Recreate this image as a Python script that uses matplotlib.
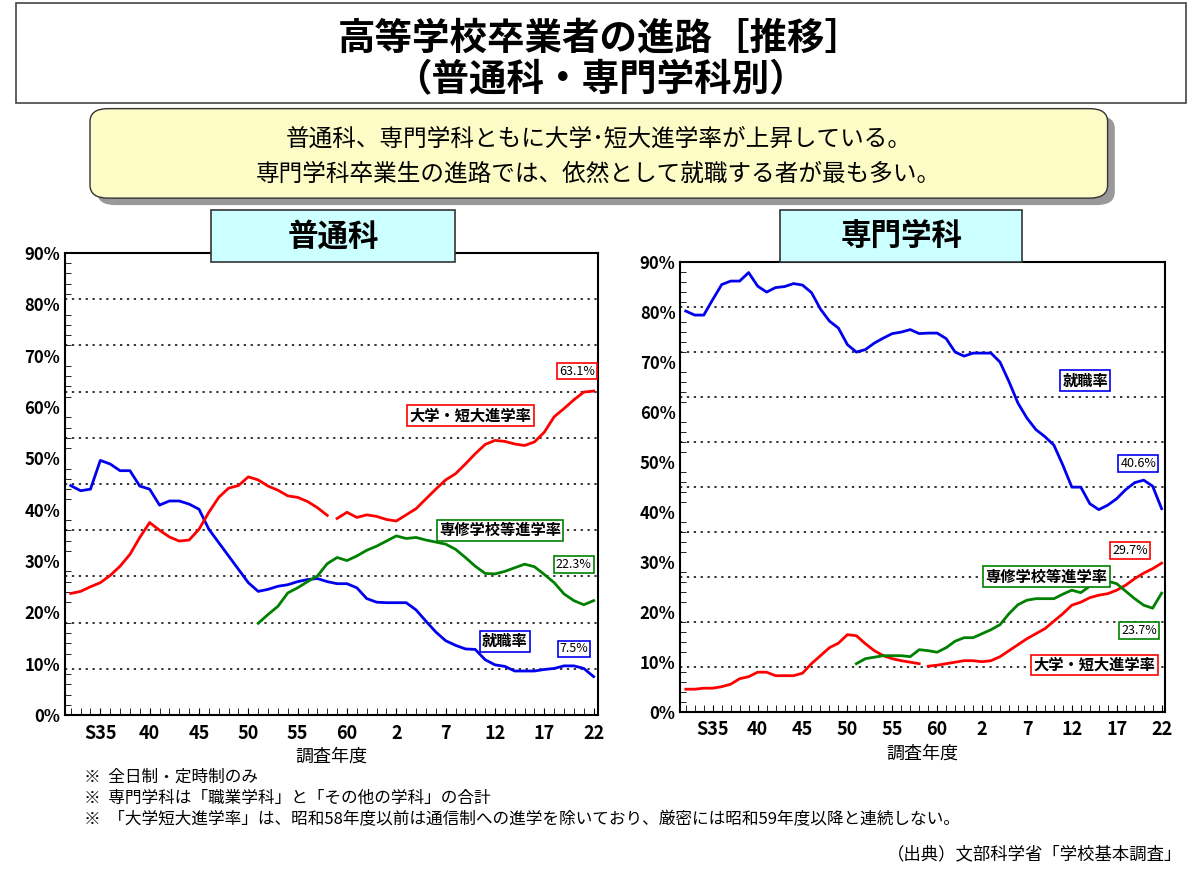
import matplotlib.pyplot as plt
import numpy as np
from matplotlib.patches import FancyBboxPatch, Rectangle

plt.rcParams['font.family'] = ['Noto Sans CJK JP', 'DejaVu Sans']

years = list(range(1957, 2011))
green_years = list(range(1976, 2011))
tick_years = [1960, 1965, 1970, 1975, 1980, 1985, 1990, 1995, 2000, 2005, 2010]
tick_labels = ['S35', '40', '45', '50', '55', '60', '2', '7', '12', '17', '22']

# 普通科
gen_job = [44.7, 43.7, 44.0, 49.6, 48.9, 47.6, 47.6, 44.6, 44.0, 40.9, 41.7, 41.7, 41.1, 40.1,
           36.2, 33.6, 31.0, 28.4, 25.8, 24.1, 24.5, 25.1, 25.4, 26.0, 26.4, 26.6, 26.0, 25.6,
           25.6, 24.8, 22.7, 22.0, 21.9, 21.9, 21.9, 20.5, 18.3, 16.2, 14.5, 13.6, 12.9, 12.8,
           10.8, 9.8, 9.5, 8.6, 8.6, 8.6, 8.9, 9.1, 9.6, 9.6, 9.1, 7.5]
gen_univ = [23.7, 24.1, 25.0, 25.8, 27.2, 29.0, 31.3, 34.6, 37.5, 36.0, 34.7, 33.9, 34.1, 36.2,
            39.5, 42.4, 44.2, 44.7, 46.4, 45.8, 44.6, 43.8, 42.7, 42.4, 41.6, 40.4, 38.9,
            38.3, 39.5, 38.5, 39.0, 38.7, 38.1, 37.8, 39.0, 40.2, 42.1, 44.0, 45.8, 47.0, 48.9,
            50.9, 52.7, 53.5, 53.3, 52.8, 52.5, 53.2, 55.1, 58.1, 59.7, 61.4, 62.9, 63.1]
gen_senshu = [17.9, 19.6, 21.2, 23.8, 24.8, 26.0, 27.1, 29.5, 30.7, 30.1, 31.0, 32.1, 32.9,
              33.9, 34.9, 34.4, 34.6, 34.1, 33.7, 33.3, 32.3, 30.7, 29.0, 27.6, 27.5, 28.0,
              28.7, 29.4, 28.9, 27.4, 25.8, 23.6, 22.3, 21.5, 22.3]

# 専門学科
sp_job = [80.1, 79.3, 79.3, 82.4, 85.4, 86.1, 86.1, 87.8, 85.1, 83.9, 84.8, 85.0, 85.6, 85.3,
          83.8, 80.5, 78.1, 76.7, 73.4, 71.9, 72.4, 73.7, 74.7, 75.6, 75.9, 76.4, 75.6, 75.7,
          75.7, 74.6, 71.9, 71.1, 71.7, 71.7, 71.7, 69.9, 66.0, 61.7, 58.7, 56.4, 55.0, 53.3,
          49.3, 44.9, 44.9, 41.6, 40.4, 41.3, 42.6, 44.4, 45.8, 46.3, 45.1, 40.6]
sp_univ = [4.5, 4.5, 4.7, 4.7, 5.0, 5.5, 6.6, 7.0, 7.9, 7.9, 7.2, 7.2, 7.2, 7.7, 9.6, 11.2,
           12.8, 13.7, 15.4, 15.2, 13.6, 12.2, 11.2, 10.6, 10.2, 9.9, 9.6,
           9.1, 9.3, 9.6, 9.9, 10.2, 10.2, 10.0, 10.2, 11.0, 12.2, 13.4, 14.6, 15.6, 16.6,
           18.1, 19.6, 21.3, 21.9, 22.8, 23.3, 23.6, 24.3, 25.3, 26.6, 27.7, 28.6, 29.7]
sp_senshu = [9.6, 10.6, 10.9, 11.2, 11.2, 11.2, 11.0, 12.4, 12.2, 11.9, 12.8, 14.1, 14.8,
             14.8, 15.6, 16.4, 17.4, 19.6, 21.4, 22.3, 22.6, 22.6, 22.6, 23.5, 24.3, 23.8,
             25.1, 26.4, 26.1, 25.6, 24.1, 22.6, 21.3, 20.7, 23.7]

BLUE, RED, GREEN = '#0000ee', '#ff0000', '#008000'

fig = plt.figure(figsize=(12, 8.69), dpi=100)

# title box
fig.patches.append(Rectangle((0.013, 0.882), 0.975, 0.115, transform=fig.transFigure,
                             fill=False, edgecolor='#444444', lw=1.2))
fig.text(0.5, 0.956, '高等学校卒業者の進路［推移］', ha='center', va='center',
         fontsize=27, fontweight='bold')
fig.text(0.5, 0.908, '（普通科・専門学科別）', ha='center', va='center',
         fontsize=27, fontweight='bold')

# summary box with shadow
fig.patches.append(FancyBboxPatch((0.085, 0.768), 0.84, 0.095, transform=fig.transFigure,
                                  boxstyle='round,pad=0.004,rounding_size=0.015',
                                  facecolor='#999999', edgecolor='none'))
fig.patches.append(FancyBboxPatch((0.079, 0.776), 0.84, 0.095, transform=fig.transFigure,
                                  boxstyle='round,pad=0.004,rounding_size=0.015',
                                  facecolor='#fdfbc6', edgecolor='#333333', lw=1))
fig.text(0.499, 0.84, '普通科、専門学科ともに大学･短大進学率が上昇している。',
         ha='center', va='center', fontsize=17)
fig.text(0.499, 0.8, '専門学科卒業生の進路では、依然として就職する者が最も多い。',
         ha='center', va='center', fontsize=17)


def draw(ax, job, univ, senshu):
    y = np.array(years)
    u = np.array(univ)
    ax.plot(y, job, color=BLUE, lw=2)
    ax.plot(y[y <= 1983], u[y <= 1983], color=RED, lw=2)
    ax.plot(y[y >= 1984], u[y >= 1984], color=RED, lw=2)
    ax.plot(green_years, senshu, color=GREEN, lw=2)
    ax.set_xlim(1956.4, 2010.4)
    ax.set_ylim(0, 90)
    for g in range(9, 91, 9):
        ax.axhline(g, color='black', ls=(0, (1.5, 3)), lw=1.1, zorder=0)
    ax.set_yticks(range(0, 91, 10))
    ax.set_yticklabels([f'{v}%' for v in range(0, 91, 10)], fontsize=12, fontweight='bold')
    ax.set_xticks(tick_years)
    ax.set_xticklabels(tick_labels, fontsize=13, fontweight='bold')
    ax.set_xticks(years, minor=True)
    ax.tick_params(axis='x', which='both', direction='in', length=5, pad=6)
    ax.tick_params(axis='y', direction='in', length=0)
    ax.set_yticks(np.arange(0, 91, 2), minor=True)
    ax.tick_params(axis='y', which='minor', direction='in', length=4)
    for s in ax.spines.values():
        s.set_linewidth(1.5)
    ax.set_xlabel('調査年度', fontsize=13)


def label(ax, x, y, text, color, size=11, bold=True):
    ax.text(x, y, text, ha='center', va='center', fontsize=size,
            fontweight='bold' if bold else 'normal', zorder=5,
            bbox=dict(boxstyle='square,pad=0.15', facecolor='white', edgecolor=color, lw=1.2))


ax1 = fig.add_axes([0.054, 0.177, 0.444, 0.532])
draw(ax1, gen_job, gen_univ, gen_senshu)
label(ax1, 1997.5, 58.3, '大学・短大進学率', RED)
label(ax1, 2000.5, 36.0, '専修学校等進学率', GREEN)
label(ax1, 2001.0, 14.4, '就職率', BLUE)
label(ax1, 2008.3, 67.0, '63.1%', RED, 9, False)
label(ax1, 2008.0, 29.4, '22.3%', GREEN, 9, False)
label(ax1, 2008.0, 12.9, '7.5%', BLUE, 9, False)

ax2 = fig.add_axes([0.567, 0.181, 0.404, 0.518])
draw(ax2, sp_job, sp_univ, sp_senshu)
label(ax2, 2001.5, 66.2, '就職率', BLUE)
label(ax2, 1997.2, 27.0, '専修学校等進学率', GREEN)
label(ax2, 2002.5, 9.3, '大学・短大進学率', RED)
label(ax2, 2007.4, 49.7, '40.6%', BLUE, 9, False)
label(ax2, 2006.5, 32.3, '29.7%', RED, 9, False)
label(ax2, 2007.5, 16.3, '23.7%', GREEN, 9, False)

# panel headers
for x0, w, txt in [(0.176, 0.203, '普通科'), (0.65, 0.202, '専門学科')]:
    fig.patches.append(Rectangle((x0, 0.698), w, 0.06, transform=fig.transFigure,
                                 facecolor='#ccffff', edgecolor='#333333', lw=1.2, zorder=10))
    fig.text(x0 + w / 2, 0.728, txt, ha='center', va='center', fontsize=22,
             fontweight='bold', zorder=11)

notes = ['※  全日制・定時制のみ',
         '※  専門学科は「職業学科」と「その他の学科」の合計',
         '※  「大学短大進学率」は、昭和58年度以前は通信制への進学を除いており、厳密には昭和59年度以降と連続しない。']
for i, n in enumerate(notes):
    fig.text(0.07, 0.106 - i * 0.0245, n, fontsize=12, va='center')
fig.text(0.985, 0.017, '（出典）文部科学省「学校基本調査」', fontsize=12.5, ha='right', va='center')

fig.savefig('out.png', dpi=100)
